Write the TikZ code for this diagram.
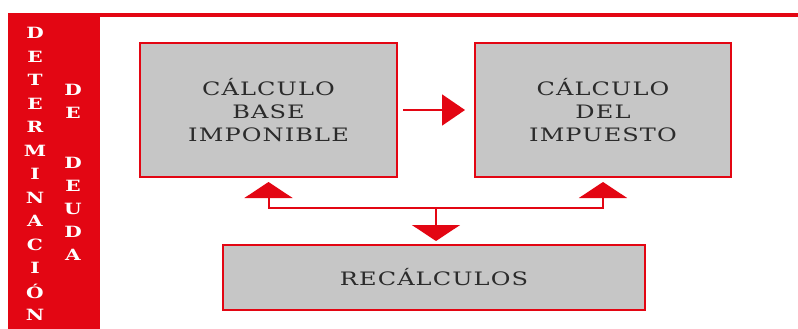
\documentclass[tikz,border=0pt]{standalone}
\usepackage{fontspec}
\usepackage{graphicx}
\setmainfont{DejaVu Serif}[FakeStretch=1.3,LetterSpace=6]
\newfontfamily\bandfont{DejaVu Serif}
\usetikzlibrary{arrows.meta}
\definecolor{myred}{HTML}{E30613}
\definecolor{mygray}{HTML}{C6C6C6}
\definecolor{mytext}{HTML}{2B2B2B}
\newcommand{\bandl}[1]{\scalebox{1.3}[1]{#1}}
\begin{document}
\begin{tikzpicture}[x=1pt,y=-1pt,
  box/.style={draw=myred,line width=2pt,fill=mygray,inner sep=0pt,align=center,
    text=mytext,font=\fontsize{18.5}{23}\selectfont},
  conn/.style={draw=myred,line width=2pt},
  bandletter/.style={text=white,font=\bandfont\bfseries\fontsize{15.5}{16}\selectfont,inner sep=0pt}]
\useasboundingbox (0,0) rectangle (798,329);
\fill[myred] (8,14) rectangle (100,329);
\draw[myred,line width=4pt] (8,15) -- (798,15);
% band letters
\foreach \l [count=\i from 0] in {D,E,T,E,R,M,I,N,A,C,I,Ó,N}
  \node[bandletter] (c1l\i) at (35,33+23.5*\i) {\bandl{\l}};
\node[bandletter] (c2a) at (73,90) {\bandl{D}};
\node[bandletter] (c2b) at (73,113) {\bandl{E}};
\node[bandletter] (c2c) at (73,163) {\bandl{D}};
\node[bandletter] (c2d) at (73,186) {\bandl{E}};
\node[bandletter] (c2e) at (73,209) {\bandl{U}};
\node[bandletter] (c2f) at (73,232) {\bandl{D}};
\node[bandletter] (c2g) at (73,255) {\bandl{A}};
% boxes
\node[box,minimum width=257pt,minimum height=134pt] (b1) at (268.5,110) {CÁLCULO\\BASE\\IMPONIBLE};
\node[box,minimum width=256pt,minimum height=134pt] (b2) at (603,110) {CÁLCULO\\DEL\\IMPUESTO};
\node[box,minimum width=422pt,minimum height=65pt] (b3) at (434,277.5) {RECÁLCULOS};
% connectors
\draw[conn,-{Triangle[width=31pt,length=23pt]},shorten <=5pt,shorten >=9pt] (b1.east) -- (b2.west);
\coordinate (j) at (436,208);
\draw[conn,-{Triangle[width=48pt,length=16pt]},shorten >=4pt] (j) -| (b1.south);
\draw[conn,-{Triangle[width=48pt,length=16pt]},shorten >=4pt] (j) -| (b2.south);
\draw[conn,-{Triangle[width=48pt,length=16pt]},shorten >=3pt] (j) -- (j |- b3.north);
\end{tikzpicture}
\end{document}
